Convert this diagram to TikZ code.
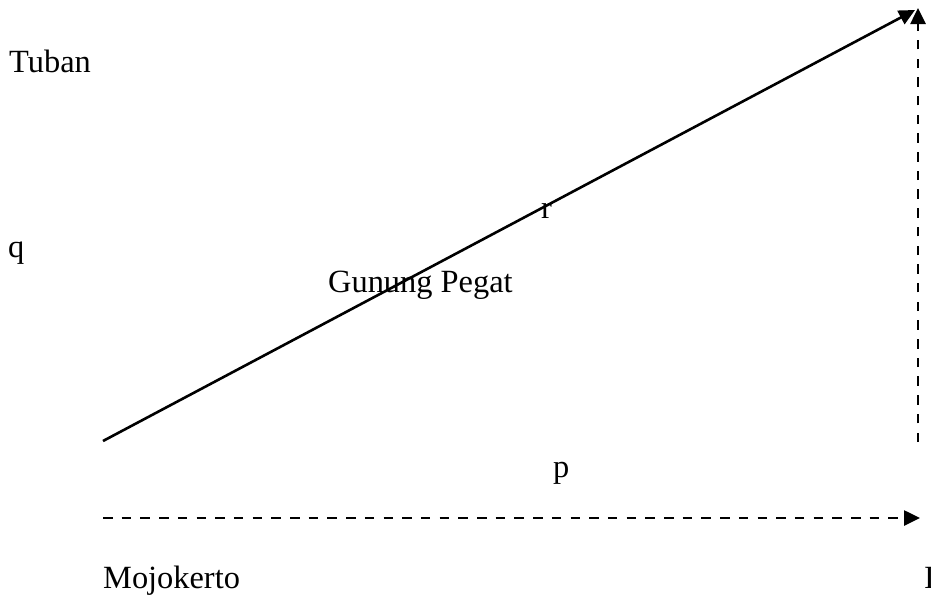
\documentclass[tikz,border=0pt]{standalone}
\usepackage{fontspec}
\setmainfont{Liberation Serif}
\usetikzlibrary{arrows.meta}
\begin{document}
\begin{tikzpicture}[x=1pt,y=-1pt,
  lbl/.style={anchor=base west,inner sep=0pt,font=\fontsize{32.4}{38}\selectfont},
  conn/.style={line width=2.6pt,-{Triangle[length=16pt,width=15pt]}},
  dsh/.style={conn,dash pattern=on 9.5pt off 9.2pt}]
\useasboundingbox (0,0) rectangle (931,595);
\coordinate (A) at (103,441);
\coordinate (T) at (915,10);
\coordinate (Vb) at (918,442);
\coordinate (Vt) at (918,8);
\coordinate (Hl) at (103,518);
\coordinate (Hr) at (920,518);
\draw[conn] (A) -- (T);
\draw[dsh] (Vb) -- (Vt);
\draw[dsh] (Hl) -- (Hr);
\node[lbl] (tuban) at (9,72) {Tuban};
\node[lbl] (q) at (8,257) {q};
\node[lbl] (gp) at (328,292) {Gunung Pegat};
\node[lbl] (r) at (541,218) {r};
\node[lbl] (p) at (553,477) {p};
\node[lbl] (mojo) at (103,588) {Mojokerto};
\node[lbl] (cut) at (924,588) {I};
\end{tikzpicture}
\end{document}
